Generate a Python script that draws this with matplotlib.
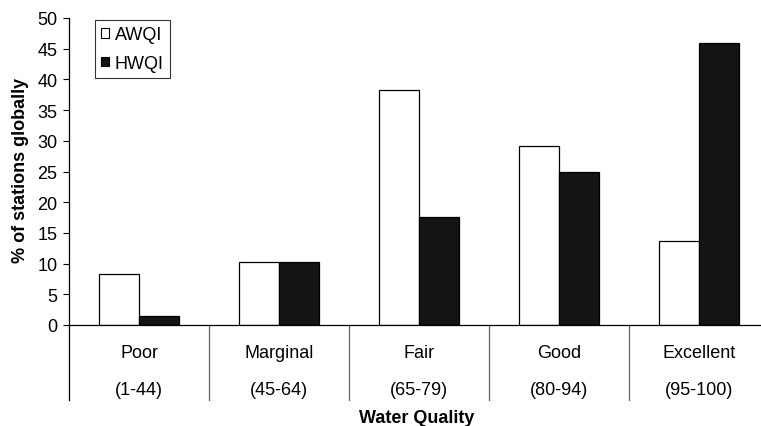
import matplotlib
matplotlib.use("Agg")
import matplotlib.pyplot as plt
from matplotlib.patches import Patch
import matplotlib.transforms as mtransforms
import numpy as np

plt.rcParams['font.family'] = ['Liberation Sans', 'DejaVu Sans']

categories = ["Poor", "Marginal", "Fair", "Good", "Excellent"]
ranges = ["(1-44)", "(45-64)", "(65-79)", "(80-94)", "(95-100)"]
awqi = [8.3, 10.2, 38.2, 29.2, 13.7]
hwqi = [1.5, 10.2, 17.6, 25.0, 45.9]
yticks = [0, 5, 10, 15, 20, 25, 30, 35, 40, 45, 50]

FS = 13
W, H = 761, 427
fig = plt.figure(figsize=(W / 100, H / 100), dpi=100)
ax = fig.add_axes([69 / W, 1 - 326 / H, 700 / W, 307 / H])

x = np.arange(len(categories)) + 0.5
bw = 0.285
ax.bar(x - bw / 2, awqi, bw, color="white", edgecolor="black", linewidth=0.9, label="AWQI")
ax.bar(x + bw / 2, hwqi, bw, color="#141414", edgecolor="black", linewidth=0.9, label="HWQI")

ax.set_xlim(0, len(categories))
ax.set_ylim(0, 50)
ax.set_yticks(yticks)
ax.tick_params(axis="y", direction="out", length=4.3, width=0.8, pad=4, labelsize=FS)
ax.set_xticks([])
for s in ["top", "right"]:
    ax.spines[s].set_visible(False)
ax.spines["left"].set_linewidth(0.9)
ax.spines["bottom"].set_linewidth(0.9)

# category dividers below the axis
trans = mtransforms.blended_transform_factory(ax.transData, fig.transFigure)
y0 = 1 - 326 / H
y1 = 1 - 401 / H
for i in range(len(categories) + 1):
    col = "black" if i == 0 else "#666666"
    ax.plot([i, i], [y0, y1], transform=trans, color=col, linewidth=0.9,
            clip_on=False)

for xi, c, r in zip(x, categories, ranges):
    ax.text(xi, 1 - 353 / H, c, transform=trans, ha="center", va="center", fontsize=FS)
    ax.text(xi, 1 - 391 / H, r, transform=trans, ha="center", va="center", fontsize=FS)

fig.text(417 / W, 1 - 419 / H, "Water Quality", ha="center", va="center",
         fontsize=FS, fontweight="bold")
fig.text(21 / W, 1 - 170 / H, "% of stations globally", ha="center", va="center",
         rotation=90, fontsize=FS, fontweight="bold")

handles = [Patch(facecolor="white", edgecolor="black", linewidth=0.8, label="AWQI"),
           Patch(facecolor="#141414", edgecolor="black", linewidth=0.8, label="HWQI")]
leg = fig.legend(handles=handles, loc="upper left", bbox_to_anchor=(95 / W, 1 - 21 / H),
                 frameon=True, fancybox=False, fontsize=FS, handlelength=0.45,
                 handleheight=0.45, handletextpad=0.3, borderpad=0.35, labelspacing=0.65,
                 borderaxespad=0)
leg.get_frame().set_edgecolor("black")
leg.get_frame().set_linewidth(0.8)

fig.savefig("out.png", dpi=100)
